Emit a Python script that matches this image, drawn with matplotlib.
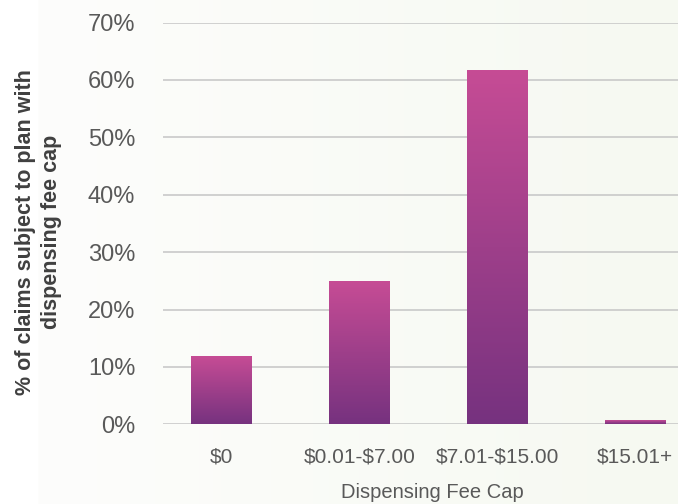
import numpy as np
import matplotlib

matplotlib.use('Agg')
from matplotlib import pyplot as plt
from matplotlib.colors import LinearSegmentedColormap, to_rgb

categories = ['\\$0', '\\$0.01-\\$7.00', '\\$7.01-\\$15.00', '\\$15.01+']
shares = [11.7, 24.8, 61.6, 0.6]
y_ticks = [0, 10, 20, 30, 40, 50, 60, 70]

TOP_COLOR = '#C64C95'
BOTTOM_COLOR = '#76327F'
TEXT_COLOR = '#595959'
GRID_COLOR = '#C9C9C9'

plt.rcParams['font.family'] = ['Liberation Sans', 'DejaVu Sans']

fig = plt.figure(figsize=(6.78, 5.04), dpi=100)

# faint background wash: white at the far left, slightly cream to the right
bg = fig.add_axes([0, 0, 1, 1], zorder=-5)
W = 678
xs = np.arange(W)
left_white = 38
t = np.clip((xs - left_white) / (W - left_white), 0, 1)
c0 = np.array(to_rgb('#FDFDFC'))
c1 = np.array(to_rgb('#F6F9F1'))
row = c0[None, :] * (1 - t[:, None]) + c1[None, :] * t[:, None]
row[xs < left_white] = 1.0
bg.imshow(row[None, :, :], aspect='auto', extent=[0, 1, 0, 1])
bg.set_axis_off()

ax = fig.add_axes([163 / 678, 1 - 424.3 / 504, 515 / 678, 401.7 / 504])
ax.set_facecolor('none')

x = np.arange(len(categories))
width = 0.44
cmap = LinearSegmentedColormap.from_list('bar', [BOTTOM_COLOR, TOP_COLOR])
grad = np.linspace(0, 1, 256)[::-1].reshape(-1, 1)
for xi, v in zip(x, shares):
    ax.imshow(grad, cmap=cmap, aspect='auto', zorder=3,
              extent=[xi - width / 2, xi + width / 2, 0, v])

ax.set_xlim(-0.425, 3.31)
ax.set_ylim(0, 70)
ax.set_yticks(y_ticks)
ax.set_yticklabels([f'{v}%' for v in y_ticks])
ax.set_xticks(x)
ax.set_xticklabels(categories)
ax.grid(axis='y', color=GRID_COLOR, linewidth=1.2, zorder=1)
ax.set_axisbelow(True)
for s in ax.spines.values():
    s.set_visible(False)
ax.tick_params(axis='y', length=0, pad=20, labelsize=17, labelcolor=TEXT_COLOR)
ax.tick_params(axis='x', length=0, pad=17, labelsize=15, labelcolor=TEXT_COLOR)

fig.text(432 / 678, 1 - 493 / 504, 'Dispensing Fee Cap', ha='center', va='center',
         fontsize=14.5, color=TEXT_COLOR)
fig.text(38.5 / 678, 1 - 232 / 504, '% of claims subject to plan with\ndispensing fee cap',
         rotation=90, ha='center', va='center', fontsize=15.5, fontweight='bold',
         color='#404040', linespacing=1.25)

fig.savefig('out.png', dpi=100)
